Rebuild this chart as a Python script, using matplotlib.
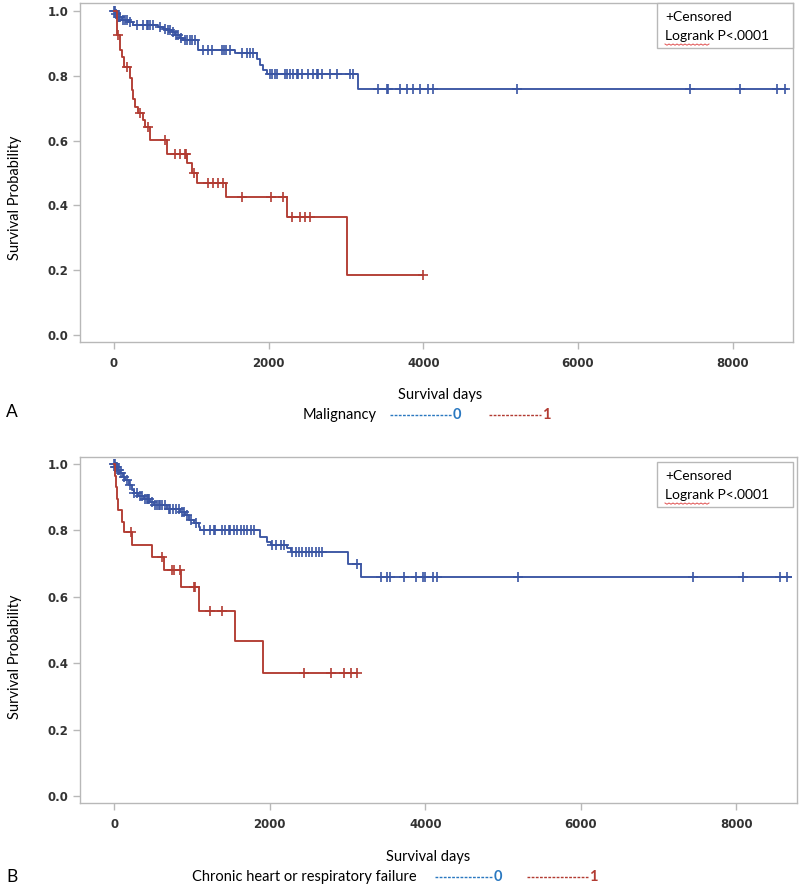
import numpy as np
import matplotlib
matplotlib.use("Agg")
import matplotlib.pyplot as plt
from matplotlib.lines import Line2D
from matplotlib.patches import Rectangle

# ---- data (days, survival after step) ----
# Panel A : Malignancy
a0_times = [20, 35, 99, 180, 250, 574, 638, 681, 746, 789, 854, 897, 1091, 1565, 1846, 1889, 1932, 1975, 3160]
a0_surv = [0.99, 0.982, 0.972, 0.965, 0.957, 0.95, 0.945, 0.941, 0.934, 0.926, 0.918, 0.91, 0.88, 0.87, 0.852, 0.833, 0.818, 0.806, 0.759]
a0_end = 8700
a0_cens = [5, 12, 28, 45, 60, 75, 110, 140, 170, 210, 293, 380, 423, 444, 466, 508,
           600, 660, 700, 720, 760, 800, 830, 870, 920, 950, 980, 1010, 1050,
           1156, 1220, 1264, 1393, 1423, 1449, 1500, 1652, 1717, 1760, 1794,
           2018, 2040, 2083, 2105, 2212, 2234, 2277, 2320, 2364, 2385, 2428, 2514, 2579,
           2622, 2643, 2687, 2794, 2881, 3053, 3096,
           3415, 3532, 3545, 3700, 3790, 3868, 3959, 4062, 4127, 5213, 7451, 8098, 8577, 8680]

a1_times = [35, 78, 99, 129, 207, 237, 250, 272, 315, 371, 401, 466, 681, 949, 1005, 1070, 1449, 2234, 3010]
a1_surv = [0.926, 0.88, 0.859, 0.827, 0.793, 0.756, 0.73, 0.704, 0.685, 0.664, 0.642, 0.602, 0.559, 0.53, 0.50, 0.469, 0.426, 0.364, 0.185]
a1_end = 4000
a1_cens = [45, 168, 336, 440, 660, 790, 854, 918, 935, 1037, 1220, 1285, 1350, 1406,
           1660, 2027, 2190, 2299, 2406, 2471, 2536, 4000]

# Panel B : Chronic heart or respiratory failure
b0_times = [10, 35, 77, 110, 142, 185, 228, 249, 300, 378, 464, 507, 679, 850, 915, 958, 1022, 1087, 1108,
            1881, 1968, 2010, 2225, 2268, 3011, 3170]
b0_surv = [0.99, 0.982, 0.972, 0.962, 0.952, 0.937, 0.922, 0.912, 0.905, 0.896, 0.886, 0.877, 0.863, 0.856,
           0.846, 0.831, 0.821, 0.809, 0.801, 0.781, 0.766, 0.756, 0.746, 0.736, 0.70, 0.66]
b0_end = 8700
b0_cens = [3, 8, 15, 22, 30, 50, 65, 90, 120, 160, 200, 260, 290, 330, 360, 400, 420, 440, 450, 480,
           530, 550, 570, 590, 620, 650, 700, 720, 760, 800, 830, 870, 900, 940, 990, 1050,
           1151, 1237, 1280, 1302, 1388, 1430, 1473, 1495, 1538, 1581, 1624, 1667, 1710, 1753, 1796,
           2032, 2075, 2139, 2182, 2290, 2333, 2376, 2418, 2461, 2504, 2547, 2590, 2633, 2676,
           3127, 3428, 3514, 3548, 3728, 3879, 3965, 3995, 4094, 4149, 5189, 7444, 8089, 8561, 8656]

b1_times = [10, 26, 40, 55, 99, 120, 228, 486, 636, 859, 1087, 1559, 1911]
b1_surv = [0.965, 0.93, 0.896, 0.861, 0.826, 0.796, 0.756, 0.72, 0.68, 0.63, 0.557, 0.468, 0.372]
b1_end = 3119
b1_cens = [219, 614, 743, 765, 851, 1022, 1044, 1228, 1388, 2440, 2784, 2955, 3041, 3119]

x_ticks = [0, 2000, 4000, 6000, 8000]
y_ticks = [0.0, 0.2, 0.4, 0.6, 0.8, 1.0]

BLUE = "#3a55a3"
RED = "#b23b32"
LEGBLUE = "#2a78c0"
FRAME = "#b8b8b8"
W, H = 800, 889
TXT = ["Lato", "DejaVu Sans"]


def px(x, y):
    return x / W, 1 - y / H


def km(ax, times, surv, end, cens, color):
    t = np.r_[0, times, end]
    s = np.r_[1.0, surv, surv[-1]]
    ax.step(t, s, where="post", color=color, lw=1.35)
    idx = np.searchsorted(np.r_[0, times], cens, side="right") - 1
    cs = np.r_[1.0, surv][idx]
    ax.plot(cens, cs, ls="none", marker="+", ms=6.5, mew=1.2, color=color)


def style(ax, ylim):
    ax.set_xlim(-440, 8780)
    ax.set_ylim(*ylim)
    ax.set_xticks(x_ticks)
    ax.set_yticks(y_ticks)
    ax.set_yticklabels([f"{v:.1f}" for v in y_ticks])
    for sp in ax.spines.values():
        sp.set_color(FRAME)
        sp.set_linewidth(1.0)
    ax.tick_params(axis="both", colors=FRAME, length=5, width=1, labelcolor="#333333", labelsize=8.5)
    ax.tick_params(axis="x", pad=6)
    for lab in ax.get_xticklabels() + ax.get_yticklabels():
        lab.set_fontweight("bold")


def box(fig, x0, y0, x1, y1):
    fx0, fy1 = px(x0, y0)
    fx1, fy0 = px(x1, y1)
    fig.add_artist(Rectangle((fx0, fy0), fx1 - fx0, fy1 - fy0, transform=fig.transFigure,
                             fill=True, facecolor="white", edgecolor=FRAME, lw=1.0, zorder=5))
    fig.text(*px(x0 + 8, y0 + 14), "+Censored", family=TXT, fontsize=10, va="center", zorder=6)
    fig.text(*px(x0 + 8, y0 + 33), "Logrank P<.0001", family=TXT, fontsize=10, va="center", zorder=6)
    # spell-check squiggle under "Logrank"
    xs = np.linspace(x0 + 8, x0 + 52, 23)
    ys = y0 + 41 + np.where(np.arange(23) % 2 == 0, 0, 1.2)
    fig.add_artist(Line2D(xs / W, 1 - ys / H, color="#e05050", lw=0.7, transform=fig.transFigure, zorder=6))


def legend_row(fig, y, label, x_label_end, b0, b1, r0, r1):
    fig.text(*px(x_label_end, y), label, family=TXT, fontsize=10.5, ha="right", va="center")
    for (a, b, c, t) in [(b0, b1, LEGBLUE, "0"), (r0, r1, RED, "1")]:
        fig.add_artist(Line2D([a / W, b / W], [1 - y / H] * 2, color=c, lw=1.0,
                              ls=(0, (2, 1)), transform=fig.transFigure))
        fig.text(*px(b + 1, y), t, family=TXT, fontsize=10.5, fontweight="bold", color=c, va="center")


fig = plt.figure(figsize=(8, 8.89), dpi=100)

# panel A
l, r = 80, 793
axA = fig.add_axes([l / W, 1 - 342 / H, (r - l) / W, (342 - 3) / H])
km(axA, a0_times, a0_surv, a0_end, a0_cens, BLUE)
km(axA, a1_times, a1_surv, a1_end, a1_cens, RED)
style(axA, (-0.022, 1.025))
box(fig, 657, 3, 793, 48)
fig.text(*px(15, 198), "Survival Probability", family=TXT, fontsize=10.5, rotation=90, ha="center", va="center")
fig.text(*px(440, 395), "Survival days", family=TXT, fontsize=10.5, ha="center", va="center")
fig.text(*px(6, 412), "A", family=TXT, fontsize=12.5, va="center")
legend_row(fig, 415, "Malignancy", 377, 390, 452, 489, 541)

# panel B
l, r = 80, 797
axB = fig.add_axes([l / W, 1 - 803 / H, (r - l) / W, (803 - 457) / H])
km(axB, b0_times, b0_surv, b0_end, b0_cens, BLUE)
km(axB, b1_times, b1_surv, b1_end, b1_cens, RED)
style(axB, (-0.021, 1.021))
box(fig, 657, 462, 793, 507)
fig.text(*px(15, 657), "Survival Probability", family=TXT, fontsize=10.5, rotation=90, ha="center", va="center")
fig.text(*px(428, 857), "Survival days", family=TXT, fontsize=10.5, ha="center", va="center")
fig.text(*px(6, 877), "B", family=TXT, fontsize=12.5, va="center")
legend_row(fig, 877, "Chronic heart or respiratory failure", 417, 435, 493, 527, 588)

fig.savefig("out.png", dpi=100)
